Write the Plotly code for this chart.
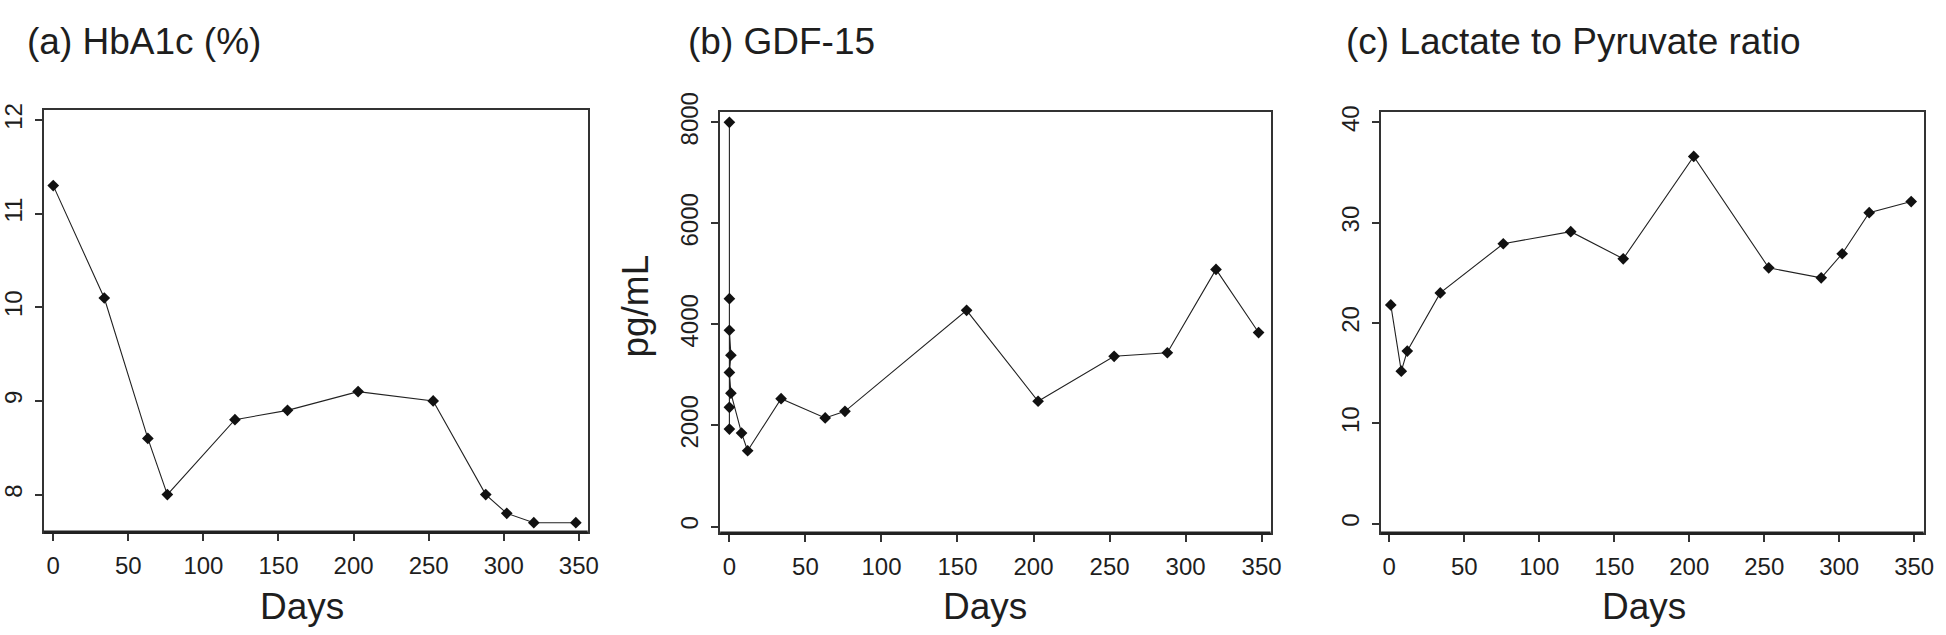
import plotly.graph_objects as go

W, H = 1946, 635

# ---------------- data ----------------
days_a = [0, 34, 63, 76, 121, 156, 203, 253, 288, 302, 320, 348]
hba1c = [11.3, 10.1, 8.6, 8.0, 8.8, 8.9, 9.1, 9.0, 8.0, 7.8, 7.7, 7.7]

days_b = [0, 0, 0, 0, 0, 1, 0, 1, 8, 12, 34, 63, 76, 156, 203, 253, 288, 320, 348]
gdf15 = [1930, 2360, 8000, 4510, 3885, 3390, 3050, 2640, 1850, 1500, 2530, 2150,
         2280, 4280, 2480, 3370, 3440, 5090, 3840]

days_c = [1, 8, 12, 34, 76, 121, 156, 203, 253, 288, 302, 320, 348]
lp_ratio = [21.8, 15.2, 17.2, 23.0, 27.9, 29.1, 26.4, 36.6, 25.5, 24.5, 26.9, 31.0, 32.1]

x_ticks = [0, 50, 100, 150, 200, 250, 300, 350]
y_ticks_a = [8, 9, 10, 11, 12]
y_ticks_b = [0, 2000, 4000, 6000, 8000]
y_ticks_c = [0, 10, 20, 30, 40]

titles = ["(a) HbA1c (%)", "(b) GDF-15", "(c) Lactate to Pyruvate ratio"]
x_label = "Days"
y_label_b = "pg/mL"

# ---------------- layout geometry (pixels) ----------------
FONT = "Liberation Sans, Arial, Helvetica, sans-serif"
INK = "#1e1e1e"
LINE = "#333333"

panels = [
    dict(x0=33.3, x1=583.3, y0=92.7, y1=529.0, xr=[-6.2, 355.9], yr=[7.597, 12.11],
         yt=y_ticks_a, days=days_a, vals=hba1c, title_x=14, days_x=294),
    dict(x0=717.3, x1=1274.0, y0=95.0, y1=530.0, xr=[-6.05, 355.9], yr=[-134, 8205],
         yt=y_ticks_b, days=days_b, vals=gdf15, title_x=683, days_x=985),
    dict(x0=1385.7, x1=1934.5, y0=95.0, y1=530.0, xr=[-5.5, 356.3], yr=[-0.966, 41.03],
         yt=y_ticks_c, days=days_c, vals=lp_ratio, title_x=1348, days_x=1652),
]

fig = go.Figure()
annotations = []
shapes = []

for i, p in enumerate(panels):
    k = "" if i == 0 else str(i + 1)
    fig.add_trace(go.Scatter(
        x=p["days"], y=p["vals"], mode="lines+markers",
        line=dict(color="#222222", width=1.1),
        marker=dict(symbol="diamond", size=9, color="#111111"),
        xaxis="x" + k, yaxis="y" + k, showlegend=False, hoverinfo="x+y",
    ))
    axis_common = dict(
        showgrid=False, zeroline=False, showline=True, mirror=True,
        linecolor=LINE, linewidth=1.5, ticks="outside", ticklen=7,
        tickwidth=1.5, tickcolor=LINE,
        tickfont=dict(family=FONT, size=24, color=INK),
    )
    fig.update_layout(**{
        "xaxis" + k: dict(
            axis_common, domain=[p["x0"] / W, p["x1"] / W], range=p["xr"],
            tickmode="array", tickvals=x_ticks, anchor="y" + k,
            ticklabelstandoff=4,
        ),
        "yaxis" + k: dict(
            axis_common, domain=[1 - p["y1"] / H, 1 - p["y0"] / H], range=p["yr"],
            tickmode="array", tickvals=p["yt"], anchor="x" + k, tickangle=-90,
            ticklabelstandoff=4,
        ),
    })
    # thick bottom frame line
    shapes.append(dict(type="line", xref="x" + k + " domain", yref="y" + k + " domain",
                       x0=0, x1=1, y0=0, y1=0, line=dict(color="#222222", width=3.5)))
    annotations.append(dict(text=titles[i], x=p["title_x"] / W, y=1 - 22 / H,
                            xref="paper", yref="paper", xanchor="left", yanchor="middle",
                            showarrow=False, font=dict(family=FONT, size=37, color=INK)))
    annotations.append(dict(text=x_label, x=p["days_x"] / W, y=1 - 606 / H,
                            xref="paper", yref="paper", xanchor="center", yanchor="middle",
                            showarrow=False, font=dict(family=FONT, size=37, color=INK)))

annotations.append(dict(text=y_label_b, x=632 / W, y=1 - 295 / H, xref="paper", yref="paper",
                        xanchor="center", yanchor="middle", textangle=-90, showarrow=False,
                        font=dict(family=FONT, size=37, color=INK)))

fig.update_layout(
    width=W, height=H, margin=dict(l=0, r=0, t=0, b=0),
    paper_bgcolor="white", plot_bgcolor="white",
    annotations=annotations, shapes=shapes,
)

fig.write_html(
    "out.html",
    config={"displayModeBar": False},
    post_script="document.body.style.margin='0';document.body.style.overflow='hidden';",
)
